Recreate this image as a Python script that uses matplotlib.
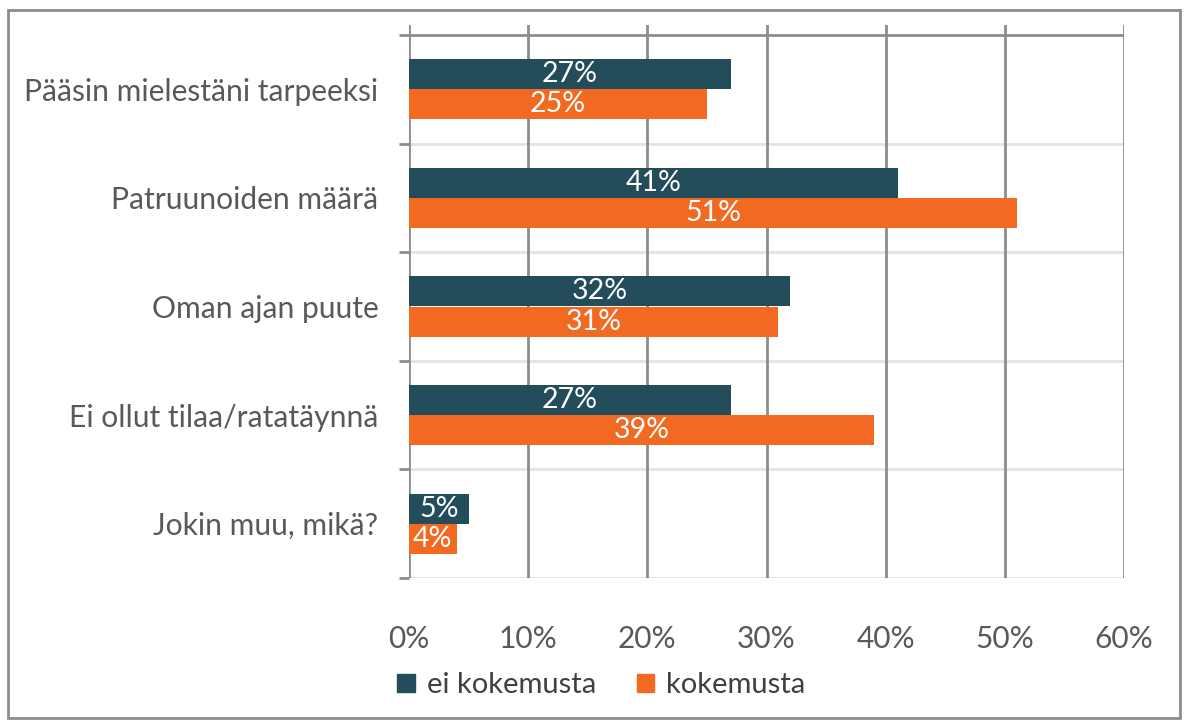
import matplotlib.pyplot as plt
from matplotlib.patches import Rectangle, Patch
import numpy as np

# data
categories = ["Pääsin mielestäni tarpeeksi", "Patruunoiden määrä", "Oman ajan puute",
              "Ei ollut tilaa/ratatäynnä", "Jokin muu, mikä?"]
ei_kokemusta = [27, 41, 32, 27, 5]
kokemusta = [25, 51, 31, 39, 4]
series_names = ["ei kokemusta", "kokemusta"]
x_ticks = [0, 10, 20, 30, 40, 50, 60]

dark = "#234d5b"
orange = "#f26a22"
grid = "#8c8c8c"
text_col = "#595959"

plt.rcParams['font.family'] = ['Lato', 'DejaVu Sans']

fig = plt.figure(figsize=(11.86, 7.22), dpi=100)
ax = fig.add_axes([409/1186, 144/722, 715/1186, 553/722])

y = np.arange(len(categories))
h = 0.277
ax.barh(y - h/2, ei_kokemusta, height=h, color=dark, zorder=3)
ax.barh(y + h/2, kokemusta, height=h, color=orange, zorder=3)

# value labels centred in bars
for i in range(len(categories)):
    ax.text(ei_kokemusta[i]/2, y[i] - h/2, f"{ei_kokemusta[i]}%", color="white",
            ha="center", va="center", fontsize=20.5, zorder=4)
    ax.text(kokemusta[i]/2, y[i] + h/2, f"{kokemusta[i]}%", color="white",
            ha="center", va="center", fontsize=20.5, zorder=4)

ax.set_xlim(0, 60)
top_extra = 10/108.6
ax.set_ylim(len(categories) - 0.5, -0.5 - top_extra)

# vertical gridlines
for xv in x_ticks:
    ax.axvline(xv, color=grid, lw=2, zorder=2)

# category separators
bounds = np.arange(-0.5, len(categories) + 0.5)
for b in bounds:
    c = grid if b == -0.5 else "#e3e3e3"
    ax.axhline(b, color=c, lw=2, zorder=1 if b != -0.5 else 2)
ax.set_yticks(bounds)
ax.set_yticklabels([])
ax.tick_params(axis='y', which='major', length=7, width=2, color=grid)
ax.set_yticks(y, minor=True)
ax.set_yticklabels(categories, minor=True)
ax.tick_params(axis='y', which='minor', length=0, pad=22, labelsize=21.6, labelcolor=text_col)

ax.set_xticks(x_ticks)
ax.set_xticklabels([f"{v}%" for v in x_ticks])
ax.tick_params(axis='x', length=0, pad=34, labelsize=21.5, labelcolor=text_col)

for s in ax.spines.values():
    s.set_visible(False)

handles = [Patch(color=dark), Patch(color=orange)]
fig.legend(handles, series_names, loc="center", bbox_to_anchor=(0.507, 0.051),
           ncol=2, frameon=False, fontsize=21, labelcolor="#404040",
           handlelength=0.6, handleheight=0.6, handletextpad=0.4, columnspacing=1.4)

# outer frame
fig.patches.append(Rectangle((8/1186, 4/722), 1172/1186, 708/722, transform=fig.transFigure,
                             fill=False, edgecolor=grid, lw=2))

fig.savefig("out.png", dpi=100)
